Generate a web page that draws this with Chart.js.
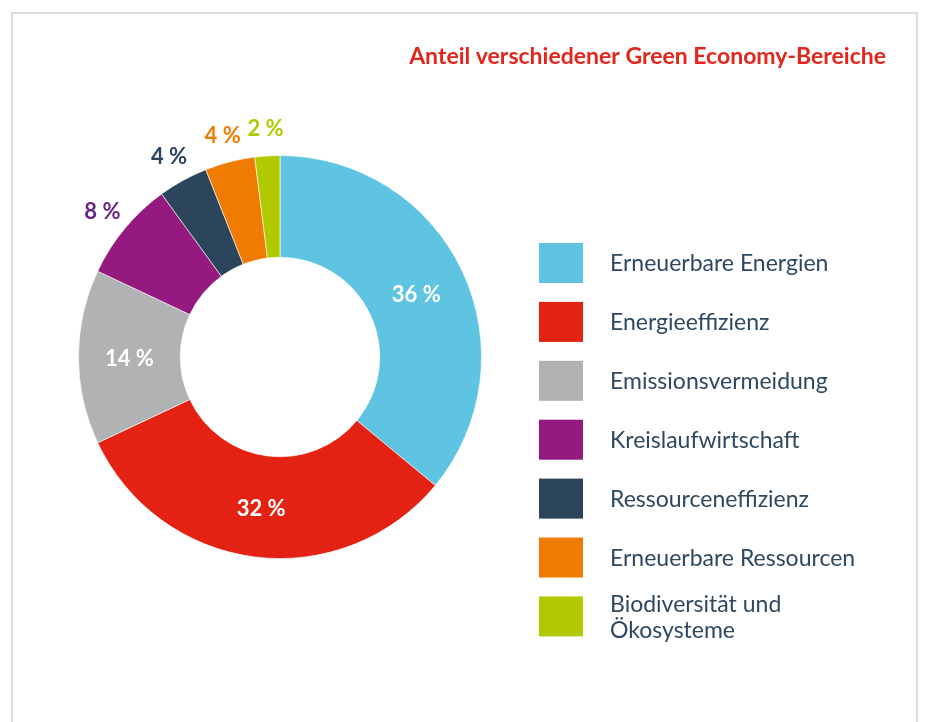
<!DOCTYPE html>
<html><head><meta charset="utf-8">
<script src="https://cdn.jsdelivr.net/npm/chart.js@4/dist/chart.umd.min.js"></script>
<style>html,body{margin:0;padding:0;background:#fff;}canvas{display:block}</style>
</head><body>
<canvas id="c" width="925" height="722"></canvas>
<script>
const chartTitle = 'Anteil verschiedener Green Economy-Bereiche';
const categories = ['Erneuerbare Energien','Energieeffizienz','Emissionsvermeidung','Kreislaufwirtschaft','Ressourceneffizienz','Erneuerbare Ressourcen','Biodiversität und Ökosysteme'];
const legendLines = [['Erneuerbare Energien'],['Energieeffizienz'],['Emissionsvermeidung'],['Kreislaufwirtschaft'],['Ressourceneffizienz'],['Erneuerbare Ressourcen'],['Biodiversität und','Ökosysteme']];
const shares = [36, 32, 14, 8, 4, 4, 2];
const sliceColors = ['#5fc4e1','#e32213','#b1b2b4','#951a80','#2c455d','#ef7c00','#b1c900'];
const outsideLabelColors = ['#ffffff','#ffffff','#ffffff','#6a2585','#2c455d','#ef7c00','#b1c900'];

const FONT = 'Lato, "Open Sans", sans-serif';
const TEXT_COLOR = '#2e4862';

const deco = {
  id: 'deco',
  beforeDraw(chart) {
    const ctx = chart.ctx;
    ctx.save();
    ctx.fillStyle = '#fff';
    ctx.fillRect(0, 0, chart.width, chart.height);
    ctx.strokeStyle = '#dcdcdc';
    ctx.lineWidth = 2;
    ctx.strokeRect(12, 13, 905, 760);
    // title
    ctx.fillStyle = '#e3261b';
    ctx.font = 'bold 23px ' + FONT;
    ctx.textAlign = 'right';
    ctx.textBaseline = 'alphabetic';
    ctx.fillText(chartTitle, 886, 64);
    // legend
    ctx.font = '23px ' + FONT;
    ctx.textAlign = 'left';
    ctx.textBaseline = 'middle';
    legendLines.forEach((lines, i) => {
      const top = 243 + i * 58.9;
      ctx.fillStyle = sliceColors[i];
      ctx.fillRect(539, top, 44, 40);
      ctx.fillStyle = TEXT_COLOR;
      const cy = top + 20;
      const lh = 26;
      lines.forEach((t, j) => {
        ctx.fillText(t, 610, cy + (j - (lines.length - 1) / 2) * lh + 1);
      });
    });
    ctx.restore();
  },
  afterDatasetsDraw(chart) {
    const ctx = chart.ctx;
    const meta = chart.getDatasetMeta(0);
    ctx.save();
    ctx.font = 'bold 22px ' + FONT;
    ctx.textAlign = 'center';
    ctx.textBaseline = 'middle';
    meta.data.forEach((arc, i) => {
      const p = arc.getProps(['x','y','startAngle','endAngle','innerRadius','outerRadius'], true);
      const mid = (p.startAngle + p.endAngle) / 2;
      const inside = shares[i] >= 10;
      const r = inside ? (p.innerRadius + p.outerRadius) / 2 : p.outerRadius + 29;
      const x = p.x + Math.cos(mid) * r;
      const y = p.y + Math.sin(mid) * r;
      ctx.fillStyle = inside ? '#ffffff' : outsideLabelColors[i];
      ctx.fillText(shares[i] + ' %', x, y + 2);
    });
    ctx.restore();
  }
};

new Chart(document.getElementById('c'), {
  type: 'doughnut',
  data: {
    labels: categories,
    datasets: [{
      data: shares,
      backgroundColor: sliceColors,
      borderColor: 'rgba(255,255,255,0.6)',
      borderWidth: 1,
      hoverOffset: 0
    }]
  },
  options: {
    responsive: false,
    animation: false,
    cutout: '49.5%',
    layout: { padding: { left: 78, top: 155, right: 443, bottom: 163 } },
    plugins: {
      legend: { display: false },
      title: { display: false },
      tooltip: { enabled: false }
    },
    events: []
  },
  plugins: [deco]
});
</script>
</body></html>
